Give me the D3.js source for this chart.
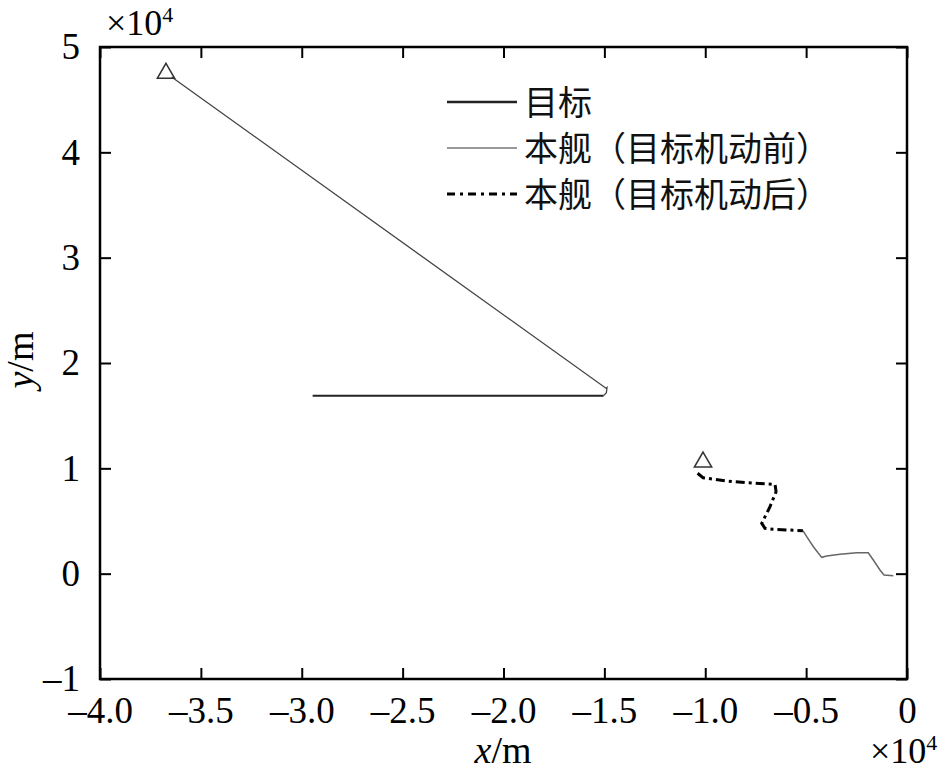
<!DOCTYPE html>
<html>
<head>
<meta charset="utf-8">
<script src="https://cdn.jsdelivr.net/npm/d3@7"></script>
<style>
  body { margin: 0; background: #fff; }
  svg { display: block; }
</style>
</head>
<body>
<svg id="chart" width="945" height="772"></svg>
<script>
// values in units of 1e4 m
const xTicks = [-4, -3.5, -3, -2.5, -2, -1.5, -1, -0.5, 0];
const yTicks = [-1, 0, 1, 2, 3, 4, 5];

// target (solid black)
const targetX = [-1.504, -2.946];
const targetY = [1.689, 1.689];

// upper diagonal track (thin grey)
const diagX = [-3.645, -1.492, -1.487, -1.490, -1.504];
const diagY = [4.715, 1.760, 1.768, 1.718, 1.690];

// own ship after target manoeuvre (dash-dot)
const afterX = [-1.038, -1.011, -0.894, -0.795, -0.654, -0.649, -0.679, -0.720, -0.704, -0.664, -0.516];
const afterY = [0.953, 0.911, 0.880, 0.864, 0.848, 0.778, 0.636, 0.478, 0.431, 0.421, 0.408];

// own ship before target manoeuvre (thin grey)
const beforeX = [-0.516, -0.497, -0.464, -0.423, -0.398, -0.332, -0.249, -0.192, -0.167, -0.134, -0.114, -0.068];
const beforeY = [0.408, 0.351, 0.256, 0.155, 0.168, 0.184, 0.199, 0.199, 0.130, 0.035, -0.013, -0.019];

// start markers
const markX = [-3.673, -1.011];
const markY = [4.750, 1.060];

const legendNames = ["目标", "本舰（目标机动前）", "本舰（目标机动后）"];

const serif = "'Liberation Serif', 'Times New Roman', serif";
const svg = d3.select("#chart");
const mLeft = 100, mRight = 907, mTop = 47, mBottom = 679;

const x = d3.scaleLinear().domain([-4, 0]).range([mLeft, mRight]);
const y = d3.scaleLinear().domain([-1, 5]).range([mBottom, mTop]);

const fmtX = d => d === 0 ? "0" : d3.format(".1f")(d).replace("-", "–").replace("−", "–");
const fmtY = d => String(d).replace("-", "–");

function styleAxis(g) {
  g.attr("font-family", serif);
  g.select(".domain").remove();
  g.selectAll(".tick line").attr("stroke", "#000").attr("stroke-width", 2);
  g.selectAll(".tick text").attr("font-family", serif).attr("font-size", 37).attr("fill", "#000");
}

// bottom axis with labels
svg.append("g")
  .attr("transform", `translate(0,${mBottom})`)
  .call(d3.axisBottom(x).tickValues(xTicks).tickFormat(fmtX).tickSizeInner(-11).tickSizeOuter(0).tickPadding(18))
  .call(styleAxis);

// top axis ticks only
svg.append("g")
  .attr("transform", `translate(0,${mTop})`)
  .call(d3.axisTop(x).tickValues(xTicks).tickFormat("").tickSizeInner(-11).tickSizeOuter(0))
  .call(styleAxis);

// left axis
svg.append("g")
  .attr("transform", `translate(${mLeft},0)`)
  .call(d3.axisLeft(y).tickValues(yTicks).tickFormat(fmtY).tickSizeInner(-11).tickSizeOuter(0).tickPadding(20))
  .call(styleAxis);

// right axis ticks only
svg.append("g")
  .attr("transform", `translate(${mRight},0)`)
  .call(d3.axisRight(y).tickValues(yTicks).tickFormat("").tickSizeInner(-11).tickSizeOuter(0))
  .call(styleAxis);

// frame
svg.append("rect")
  .attr("x", mLeft).attr("y", mTop)
  .attr("width", mRight - mLeft).attr("height", mBottom - mTop)
  .attr("fill", "none").attr("stroke", "#000").attr("stroke-width", 2.5);

const line = d3.line().x(d => x(d[0])).y(d => y(d[1]));
const zip = (a, b) => a.map((v, i) => [v, b[i]]);

svg.append("path").datum(zip(diagX, diagY))
  .attr("d", line).attr("fill", "none").attr("stroke", "#444").attr("stroke-width", 1.3);

svg.append("path").datum(zip(targetX, targetY))
  .attr("d", line).attr("fill", "none").attr("stroke", "#222").attr("stroke-width", 2.2);

svg.append("path").datum(zip(beforeX, beforeY))
  .attr("d", line).attr("fill", "none").attr("stroke", "#666").attr("stroke-width", 1.5);

svg.append("path").datum(zip(afterX, afterY))
  .attr("d", line).attr("fill", "none").attr("stroke", "#000").attr("stroke-width", 3)
  .attr("stroke-dasharray", "9 4 3 4");

const tri = d3.symbol().type(d3.symbolTriangle).size(130);
svg.selectAll(".mark").data(zip(markX, markY)).enter()
  .append("path").attr("class", "mark")
  .attr("d", tri)
  .attr("transform", d => `translate(${x(d[0])},${y(d[1])})`)
  .attr("fill", "none").attr("stroke", "#333").attr("stroke-width", 1.5);

// legend
const legendStyles = [
  { stroke: "#222", width: 2.6, dash: null },
  { stroke: "#777", width: 1.4, dash: null },
  { stroke: "#000", width: 3, dash: "8 5 3 5" }
];
const legendY = [102, 148, 194];
const lg = svg.append("g");
legendNames.forEach((name, i) => {
  lg.append("line")
    .attr("x1", 447).attr("x2", 517)
    .attr("y1", legendY[i]).attr("y2", legendY[i])
    .attr("stroke", legendStyles[i].stroke)
    .attr("stroke-width", legendStyles[i].width)
    .attr("stroke-dasharray", legendStyles[i].dash);
  lg.append("text")
    .attr("x", 524).attr("y", legendY[i] - 2)
    .attr("dominant-baseline", "central")
    .attr("font-family", "'Noto Sans CJK SC', sans-serif")
    .attr("font-size", 34)
    .attr("fill", "#111")
    .text(name);
});

// exponent notes
const exp1 = svg.append("text").attr("x", 106).attr("y", 35)
  .attr("font-family", serif).attr("font-size", 36).attr("fill", "#000");
exp1.append("tspan").text("×10");
exp1.append("tspan").attr("font-size", 22).attr("dy", -13).text("4");

const exp2 = svg.append("text").attr("x", 870).attr("y", 763)
  .attr("font-family", serif).attr("font-size", 36).attr("fill", "#000");
exp2.append("tspan").text("×10");
exp2.append("tspan").attr("font-size", 22).attr("dy", -13).text("4");

// axis titles
const xt = svg.append("text").attr("x", 503).attr("y", 763)
  .attr("text-anchor", "middle").attr("font-family", serif).attr("font-size", 38).attr("fill", "#000");
xt.append("tspan").attr("font-style", "italic").text("x");
xt.append("tspan").text("/m");

const yt = svg.append("text")
  .attr("transform", "translate(33,360) rotate(-90)")
  .attr("text-anchor", "middle").attr("font-family", serif).attr("font-size", 38).attr("fill", "#000");
yt.append("tspan").attr("font-style", "italic").text("y");
yt.append("tspan").text("/m");
</script>
</body>
</html>
